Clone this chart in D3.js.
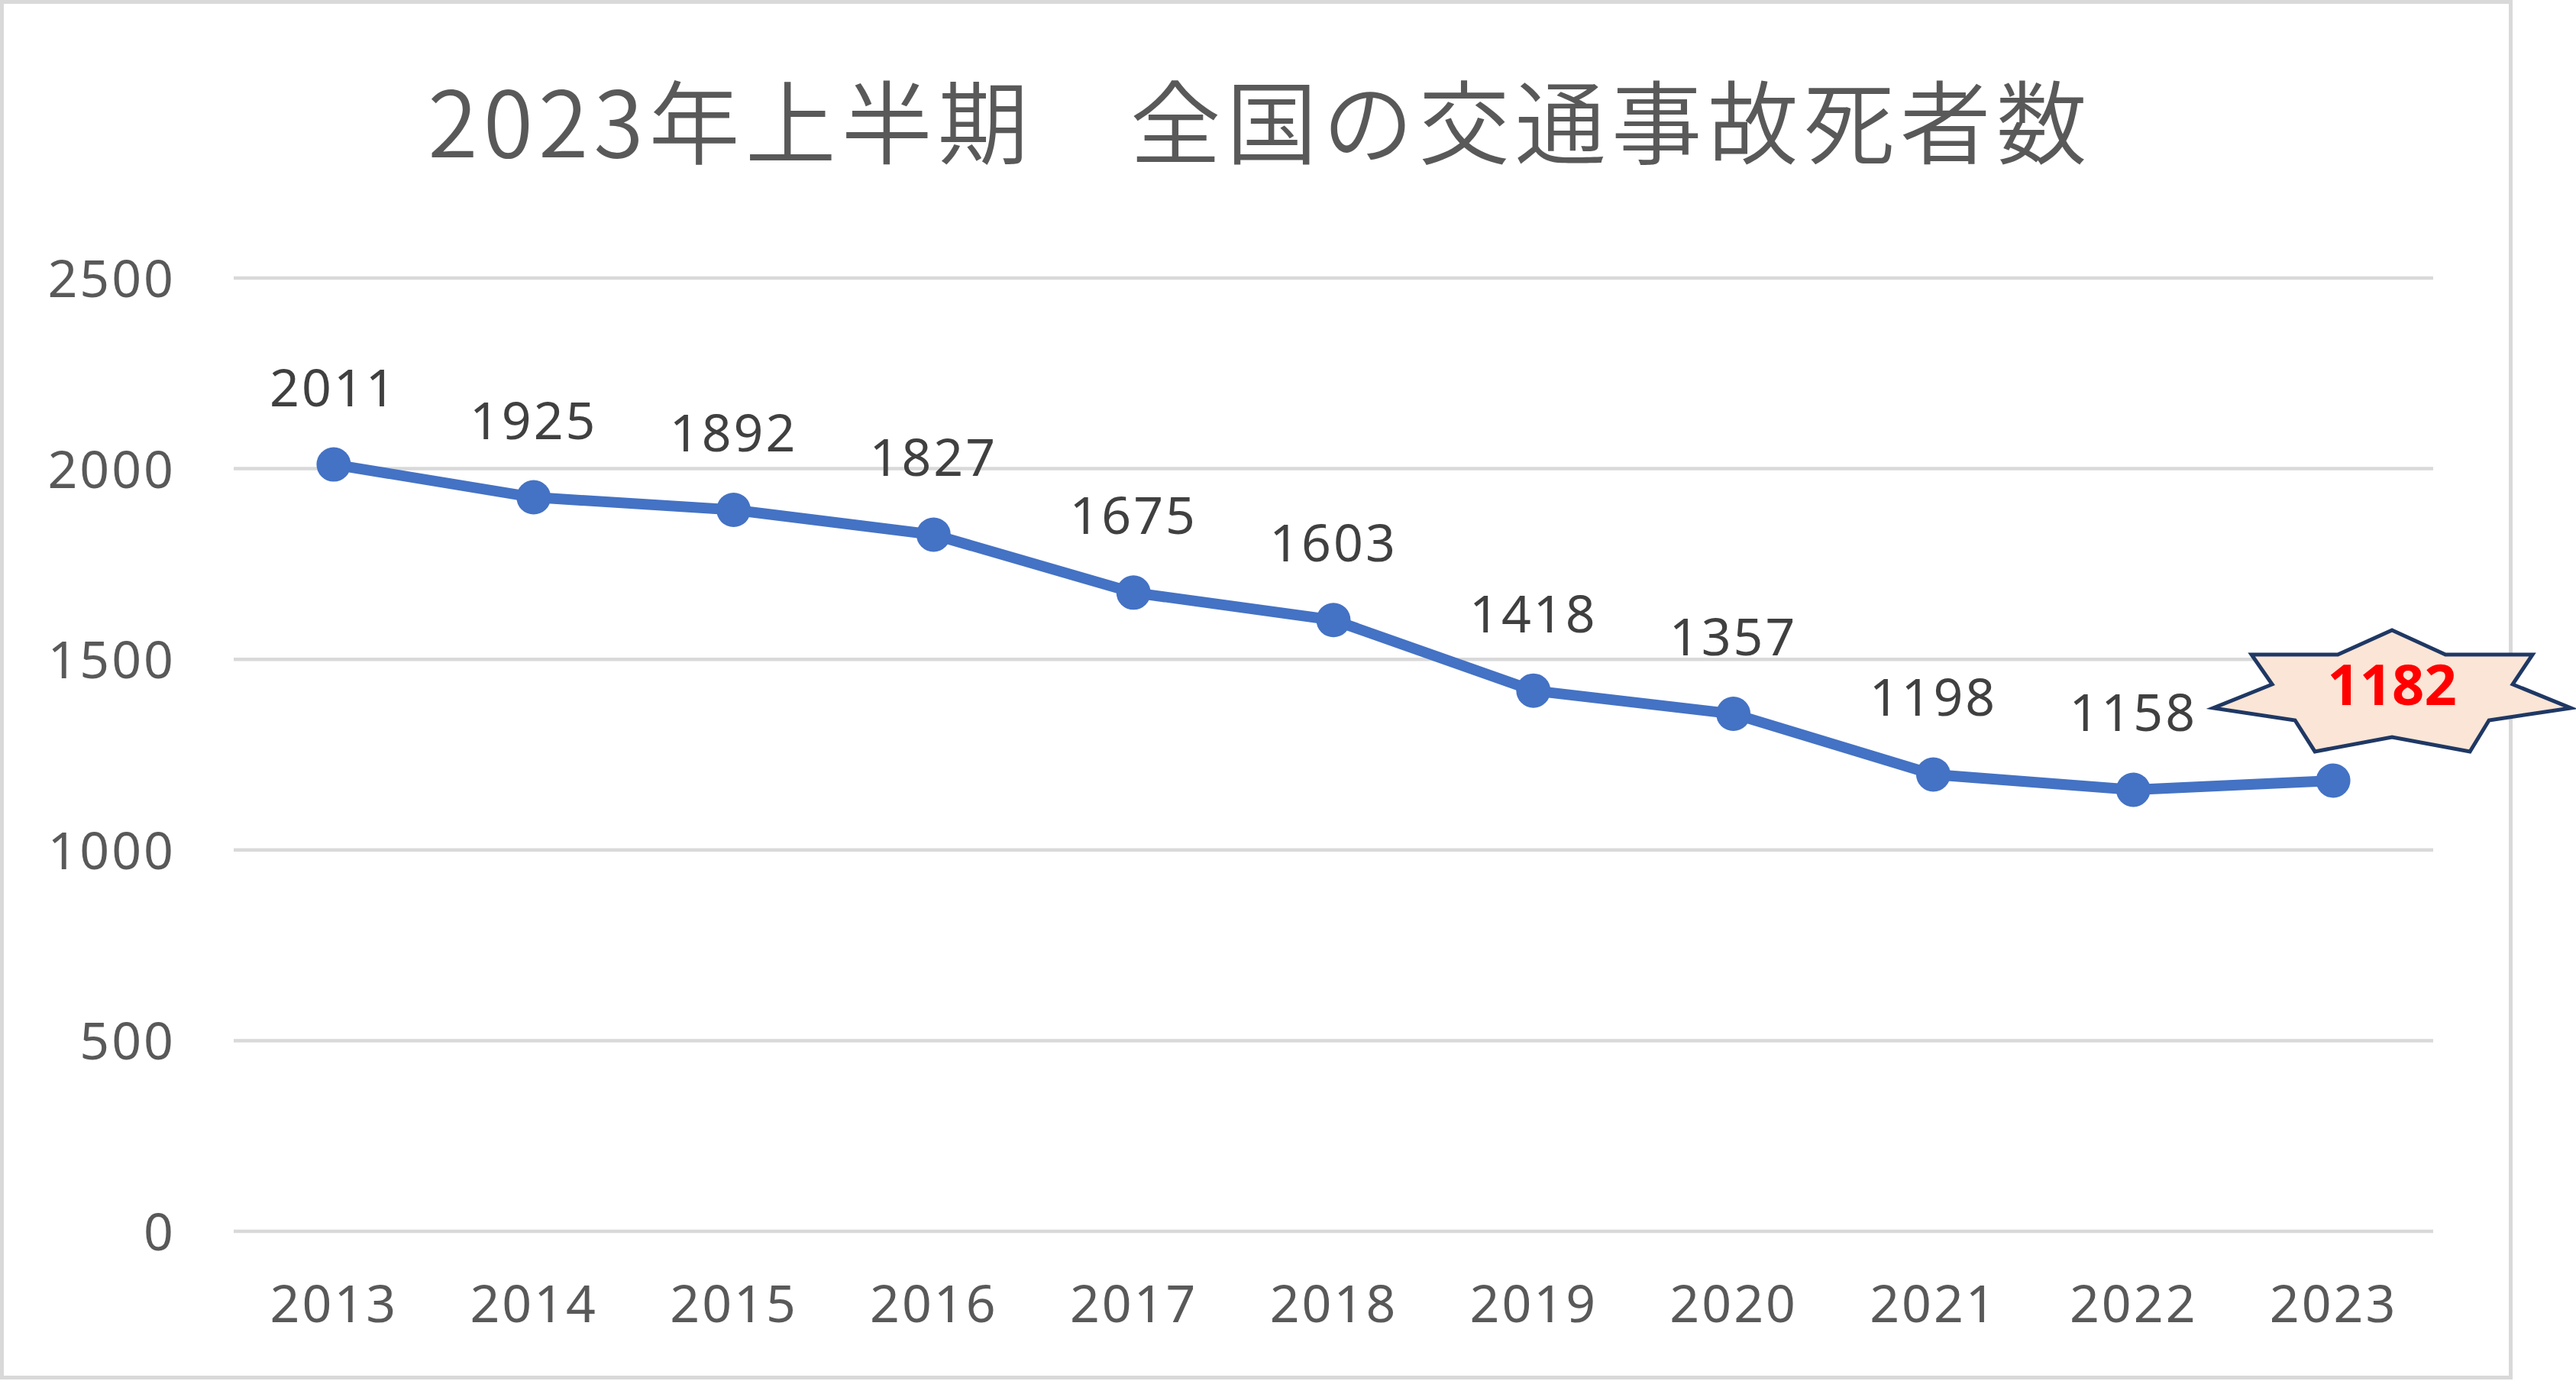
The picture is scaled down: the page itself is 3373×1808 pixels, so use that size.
<!DOCTYPE html>
<html>
<head>
<meta charset="utf-8">
<script src="https://cdn.jsdelivr.net/npm/d3@7"></script>
<style>
html,body{margin:0;padding:0;background:#fff;}
svg{display:block;}
</style>
</head>
<body>
<div id="chart"></div>
<script>
const years = ["2013","2014","2015","2016","2017","2018","2019","2020","2021","2022","2023"];
const deaths = [2011,1925,1892,1827,1675,1603,1418,1357,1198,1158,1182];
const yTicks = [0,500,1000,1500,2000,2500];
const titleText = "2023年上半期　全国の交通事故死者数";
const highlightYear = "2023";

const W = 3373, H = 1808;
const plot = {left:306, right:3186, top:364, bottom:1612};
const numFont = "'Noto Sans', 'Open Sans', sans-serif";
const numSize = 68, numSpacing = 3;

const svg = d3.select("#chart").append("svg")
  .attr("width", W).attr("height", H);

// chart border
svg.append("rect")
  .attr("x", 2.5).attr("y", 2.5)
  .attr("width", 3285).attr("height", 1801)
  .attr("fill", "#fff").attr("stroke", "#D9D9D9").attr("stroke-width", 5);

const x = d3.scalePoint().domain(years).range([plot.left, plot.right]).padding(0.5);
const y = d3.scaleLinear().domain([0,2500]).range([plot.bottom, plot.top]);

// gridlines
svg.append("g").selectAll("line").data(yTicks).join("line")
  .attr("x1", plot.left).attr("x2", plot.right)
  .attr("y1", d => y(d)).attr("y2", d => y(d))
  .attr("stroke", "#D9D9D9").attr("stroke-width", 4.5);

// y axis labels
const yAxis = svg.append("g")
  .attr("transform", `translate(${230},0)`)
  .call(d3.axisLeft(y).tickValues(yTicks).tickSize(0).tickPadding(0).tickFormat(d3.format("d")));
yAxis.select(".domain").remove();
yAxis.selectAll("text")
  .attr("font-family", numFont)
  .attr("font-size", numSize).attr("letter-spacing", numSpacing).attr("fill", "#595959")
  .attr("dy", "0.36em").attr("text-anchor", "end");

// x axis labels
const xAxis = svg.append("g")
  .attr("transform", `translate(0,${1707})`)
  .call(d3.axisBottom(x).tickSize(0).tickPadding(0));
xAxis.select(".domain").remove();
xAxis.selectAll("text")
  .attr("font-family", numFont)
  .attr("font-size", numSize).attr("letter-spacing", numSpacing).attr("fill", "#595959")
  .attr("dy", "0.36em");

// line
const line = d3.line().x((d,i) => x(years[i])).y(d => y(d));
svg.append("path").datum(deaths)
  .attr("d", line)
  .attr("fill", "none").attr("stroke", "#4472C4")
  .attr("stroke-width", 14).attr("stroke-linejoin", "round");

// markers
svg.append("g").selectAll("circle").data(deaths).join("circle")
  .attr("cx", (d,i) => x(years[i])).attr("cy", d => y(d))
  .attr("r", 22.5).attr("fill", "#4472C4");

// data labels (except highlighted)
svg.append("g").selectAll("text").data(deaths.map((v,i)=>({v, yr:years[i]})).filter(d => d.yr !== highlightYear))
  .join("text")
  .attr("x", d => x(d.yr)).attr("y", d => y(d.v) - 101)
  .attr("dy", "0.36em").attr("text-anchor", "middle")
  .attr("font-family", numFont)
  .attr("font-size", numSize).attr("letter-spacing", numSpacing).attr("fill", "#404040")
  .text(d => d.v);

// highlight star callout
const hi = years.indexOf(highlightYear);
const cx = x(highlightYear) + 77, cy = y(deaths[hi]) - 126;
const starPts = [[0,-71],[70,-39],[184,-39],[158,0],[234,31],[127,47],[102,88],[0,69],[-101,88],[-127,47],[-234,31],[-157,0],[-184,-39],[-71,-39]];
svg.append("polygon")
  .attr("points", starPts.map(p => [cx+p[0], cy+p[1]].join(",")).join(" "))
  .attr("fill", "#FBE5D6").attr("stroke", "#1F3864").attr("stroke-width", 5)
  .attr("stroke-linejoin", "miter");
svg.append("text")
  .attr("x", cx).attr("y", cy)
  .attr("dy", "0.36em").attr("text-anchor", "middle")
  .attr("font-family", numFont)
  .attr("font-weight", "bold")
  .attr("font-size", 74).attr("fill", "#FF0000")
  .text(deaths[hi]);

// title
svg.append("text")
  .attr("x", 1650).attr("y", 163)
  .attr("dy", "0.36em").attr("text-anchor", "middle")
  .attr("font-family", "'Noto Sans CJK JP', sans-serif")
  .attr("font-weight", 350)
  .attr("font-size", 119).attr("fill", "#595959")
  .attr("letter-spacing", 7)
  .text(titleText);
</script>
</body>
</html>
